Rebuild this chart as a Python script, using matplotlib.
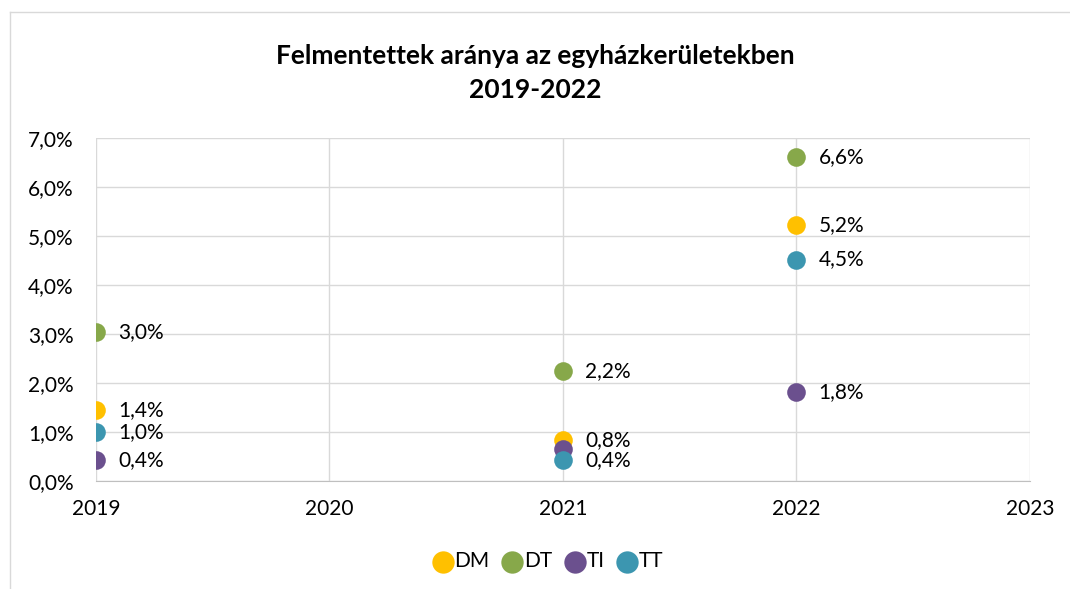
import matplotlib.pyplot as plt
from matplotlib.lines import Line2D

plt.rcParams['font.family'] = ['Lato', 'DejaVu Sans']

years = [2019, 2021, 2022]
series = ["DM", "DT", "TI", "TT"]
dm = [1.44, 0.84, 5.22]
dt = [3.04, 2.24, 6.62]
ti = [0.42, 0.66, 1.82]
tt = [1.0, 0.42, 4.52]
values = [dm, dt, ti, tt]
# which points carry a data label (TI 2021 has none in the original)
show_label = [[True, True, True], [True, True, True], [True, False, True], [True, True, True]]
colors = ["#FFC000", "#87A84A", "#6B508E", "#3C96B0"]

fig = plt.figure(figsize=(10.7, 5.89), dpi=100)
ax = fig.add_axes([0.0897, 0.1834, 0.8729, 0.5823])

for name, vals, flags, c in zip(series, values, show_label, colors):
    ax.scatter(years, vals, s=180, color=c, label=name, zorder=3, linewidths=0)
    for x, v, f in zip(years, vals, flags):
        if f:
            ax.annotate(f"{v:.1f}%".replace(".", ","), (x, v), xytext=(16, 0),
                        textcoords="offset points", va="center", ha="left", fontsize=15)

ax.set_xlim(2019, 2023)
ax.set_ylim(0, 7)
ax.set_xticks([2019, 2020, 2021, 2022, 2023])
ax.set_yticks(range(8))
ax.set_yticklabels([f"{i},0%" for i in range(8)])
ax.tick_params(labelsize=15, length=0)
ax.tick_params(axis="y", pad=16)
ax.tick_params(axis="x", pad=13)
ax.grid(True, color="#D9D9D9", linewidth=1)
ax.set_axisbelow(True)
for s in ["top", "right", "left"]:
    ax.spines[s].set_visible(False)
ax.spines["bottom"].set_color("#BFBFBF")

fig.text(0.5, 0.905, "Felmentettek aránya az egyházkerületekben", ha="center", va="center",
         fontsize=19, fontweight="bold")
fig.text(0.5, 0.847, "2019-2022", ha="center", va="center", fontsize=19, fontweight="bold")

fig.legend(loc="center", bbox_to_anchor=(0.513, 0.047), ncol=4, frameon=False, fontsize=15,
           handlelength=0.8, handletextpad=0.15, columnspacing=0.7, markerscale=1.2)

# chart area border
fig.add_artist(Line2D([10 / 1070, 10 / 1070], [0, 1 - 12 / 589], color="#D9D9D9", lw=1))
fig.add_artist(Line2D([10 / 1070, 1], [1 - 12 / 589, 1 - 12 / 589], color="#D9D9D9", lw=1))

fig.savefig("out.png", dpi=100)
